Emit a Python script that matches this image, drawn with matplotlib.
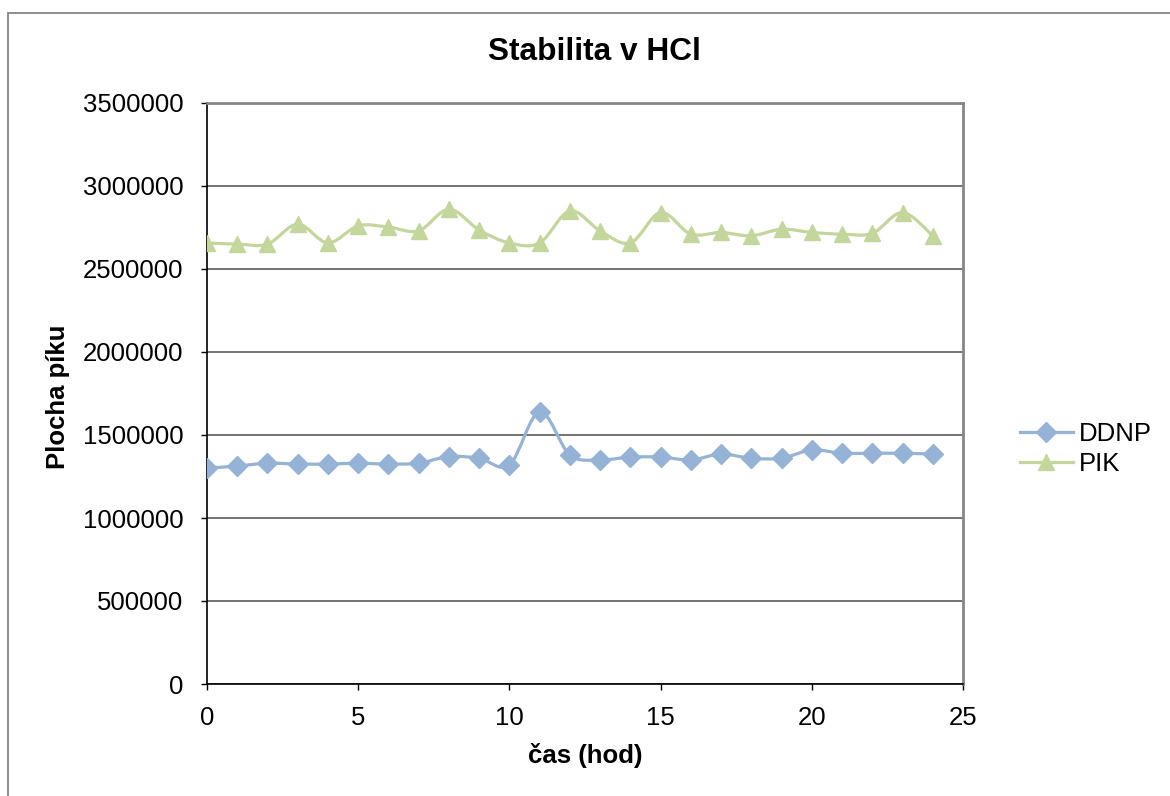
import numpy as np
import matplotlib
matplotlib.use("Agg")
import matplotlib.pyplot as plt
from matplotlib.path import Path
from matplotlib.patches import PathPatch, Rectangle
from matplotlib.lines import Line2D

plt.rcParams['font.family'] = ['Liberation Sans', 'DejaVu Sans']

# data
cas = list(range(25))
ddnp = [1300000, 1313000, 1330000, 1325000, 1325000, 1330000, 1325000, 1330000,
        1370000, 1360000, 1320000, 1640000, 1380000, 1350000, 1367000, 1367000,
        1350000, 1385000, 1360000, 1360000, 1410000, 1390000, 1390000, 1390000,
        1385000]
pik = [2657000, 2650000, 2650000, 2770000, 2657000, 2760000, 2753000, 2730000,
       2860000, 2735000, 2657000, 2657000, 2850000, 2730000, 2657000, 2840000,
       2710000, 2720000, 2700000, 2740000, 2720000, 2710000, 2715000, 2840000,
       2700000]
yticks = [0, 500000, 1000000, 1500000, 2000000, 2500000, 3000000, 3500000]
xticks = [0, 5, 10, 15, 20, 25]

c_ddnp = '#95b3d7'
c_pik = '#c3d69b'


def smooth_path(x, y):
    # Catmull-Rom style bezier, same kind of smoothing as spreadsheet charts
    x = np.asarray(x, float)
    y = np.asarray(y, float)
    n = len(x)
    verts = [(x[0], y[0])]
    codes = [Path.MOVETO]
    for i in range(n - 1):
        i0 = max(i - 1, 0)
        i3 = min(i + 2, n - 1)
        c1 = (x[i] + (x[i + 1] - x[i0]) / 6, y[i] + (y[i + 1] - y[i0]) / 6)
        c2 = (x[i + 1] - (x[i3] - x[i]) / 6, y[i + 1] - (y[i3] - y[i]) / 6)
        verts += [c1, c2, (x[i + 1], y[i + 1])]
        codes += [Path.CURVE4] * 3
    return Path(verts, codes)


fig = plt.figure(figsize=(11.7, 7.96), dpi=100)
ax = fig.add_axes([207 / 1170, 1 - 684 / 796, (963 - 207) / 1170, (684 - 103) / 796])

# outer chart border
fig.patches.append(Rectangle((8 / 1170, -0.05), 1.1, 1 - 13 / 796 + 0.05,
                             transform=fig.transFigure, fill=False,
                             edgecolor='#868686', lw=1.3))

for yy, col, mk, ms in [(ddnp, c_ddnp, 'D', 10), (pik, c_pik, '^', 12)]:
    ax.add_patch(PathPatch(smooth_path(cas, yy), fill=False, edgecolor=col,
                           lw=2.3, capstyle='round', zorder=3))
    ax.plot(cas, yy, ls='none', marker=mk, ms=ms, color=col, zorder=4)

ax.set_xlim(0, 25)
ax.set_ylim(0, 3500000)
ax.set_xticks(xticks)
ax.set_yticks(yticks)
ax.set_xticklabels([str(t) for t in xticks])
ax.set_yticklabels([str(t) for t in yticks])
ax.tick_params(labelsize=18.5, length=4, width=1, direction='out', colors='black')
ax.tick_params(axis='y', pad=13)
ax.tick_params(axis='x', pad=11.5)
ax.yaxis.grid(True, color='#4d4d4d', lw=1.1)
ax.set_axisbelow(True)

for s in ['left', 'bottom']:
    ax.spines[s].set_color('black')
    ax.spines[s].set_linewidth(1.2)
for s in ['top', 'right']:
    ax.spines[s].set_color('#868686')
    ax.spines[s].set_linewidth(2)

fig.text(594 / 1170, 1 - 52 / 796, 'Stabilita v HCl', ha='center', va='center',
         fontsize=22.8, fontweight='bold')
fig.text(585 / 1170, 1 - 755 / 796, 'čas (hod)', ha='center', va='center',
         fontsize=18.5, fontweight='bold')
fig.text(58 / 1170, 1 - 397 / 796, 'Plocha píku', ha='center', va='center',
         rotation=90, fontsize=18.5, fontweight='bold')

handles = [Line2D([], [], color=c_ddnp, lw=2.3, marker='D', ms=10),
           Line2D([], [], color=c_pik, lw=2.3, marker='^', ms=12)]
fig.legend(handles, ['DDNP', 'PIK'], loc='center left',
           bbox_to_anchor=(1020 / 1170, 1 - 449 / 796), frameon=False,
           borderpad=0, borderaxespad=0,
           fontsize=18.5, handlelength=2.05, handletextpad=0.25, labelspacing=0.22)

fig.savefig('out.png', dpi=100)
